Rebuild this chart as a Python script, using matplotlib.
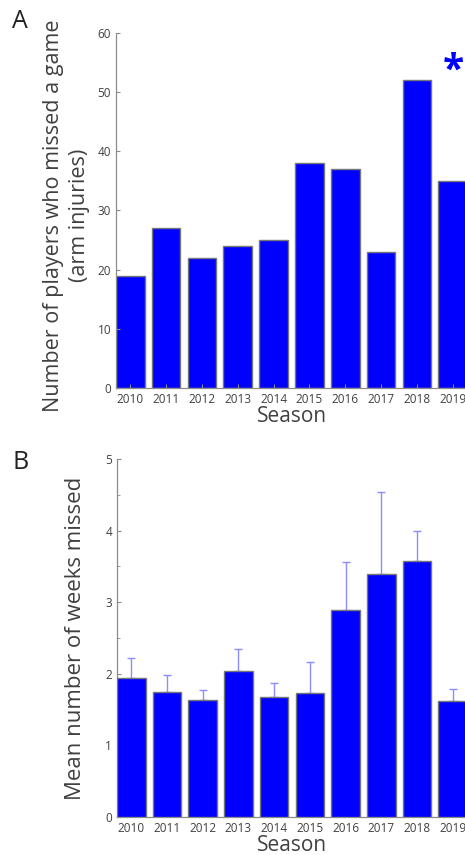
import numpy as np
import matplotlib
matplotlib.use("Agg")
from matplotlib import pyplot as plt

plt.rcParams['font.family'] = ['Open Sans', 'DejaVu Sans']

seasons = [2010, 2011, 2012, 2013, 2014, 2015, 2016, 2017, 2018, 2019]
players_missed = [19, 27, 22, 24, 25, 38, 37, 23, 52, 35]
weeks_missed = [1.94, 1.74, 1.63, 2.04, 1.68, 1.73, 2.89, 3.39, 3.58, 1.62]
weeks_err = [0.28, 0.24, 0.15, 0.31, 0.19, 0.43, 0.67, 1.15, 0.41, 0.17]

grey = '#404040'
fig = plt.figure(figsize=(4.65, 8.55), dpi=100)

def style_axes(ax):
    for s in ['top', 'right']:
        ax.spines[s].set_visible(False)
    for s in ['left', 'bottom']:
        ax.spines[s].set_color('#8c8c8c')
        ax.spines[s].set_linewidth(0.9)
    ax.tick_params(direction='in', length=3, colors='#8c8c8c', labelcolor=grey,
                   labelsize=8.5, width=0.8)
    ax.tick_params(which='minor', direction='in', length=2, colors='#8c8c8c')
    ax.set_xticks(seasons)
    ax.set_xticklabels([str(s) for s in seasons])
    ax.set_xlim(2009.6, 2019.4)

# panel A - number of players
ax1 = fig.add_axes([116/465, 1-388/855, (467-116)/465, (388-33)/855])
ax1.bar(seasons, players_missed, width=0.8, color='#0000ff', edgecolor='#777777', linewidth=1)
ax1.set_ylim(0, 60)
ax1.set_yticks(np.arange(0, 61, 10))
style_axes(ax1)
ax1.set_xlabel('Season', fontsize=15, color=grey, labelpad=0)
ax1.set_ylabel('Number of players who missed a game\n(arm injuries)', fontsize=15.5,
               color=grey, linespacing=1.3)
ax1.yaxis.set_label_coords(-0.075, 0.485)
ax1.text(2019.02, 53.5, '*', color='#0000ff', fontsize=28, fontweight='bold',
         ha='center', va='center', clip_on=False)
fig.text(12/465, 1-22/855, 'A', fontsize=18, color='#222222', va='center')

# panel B - mean weeks missed
ax2 = fig.add_axes([117/465, 1-817/855, (467-117)/465, (817-459)/855])
ax2.bar(seasons, weeks_missed, width=0.8, color='#0000ff', edgecolor='#777777', linewidth=1,
        zorder=3)
ax2.errorbar(seasons, weeks_missed, yerr=[np.zeros(len(weeks_err)), weeks_err], fmt='none',
             ecolor='#8c8cff', elinewidth=1, capsize=3, capthick=1, zorder=2)
ax2.set_ylim(0, 5)
ax2.set_yticks(np.arange(0, 6, 1))
ax2.set_yticks(np.arange(0, 5.1, 0.5), minor=True)
style_axes(ax2)
ax2.set_xlabel('Season', fontsize=15, color=grey, labelpad=0)
ax2.set_ylabel('Mean number of weeks missed', fontsize=16, color=grey, labelpad=14)
fig.text(12/465, 1-462/855, 'B', fontsize=18, color='#222222', va='center')

fig.savefig('out.png', dpi=100)
